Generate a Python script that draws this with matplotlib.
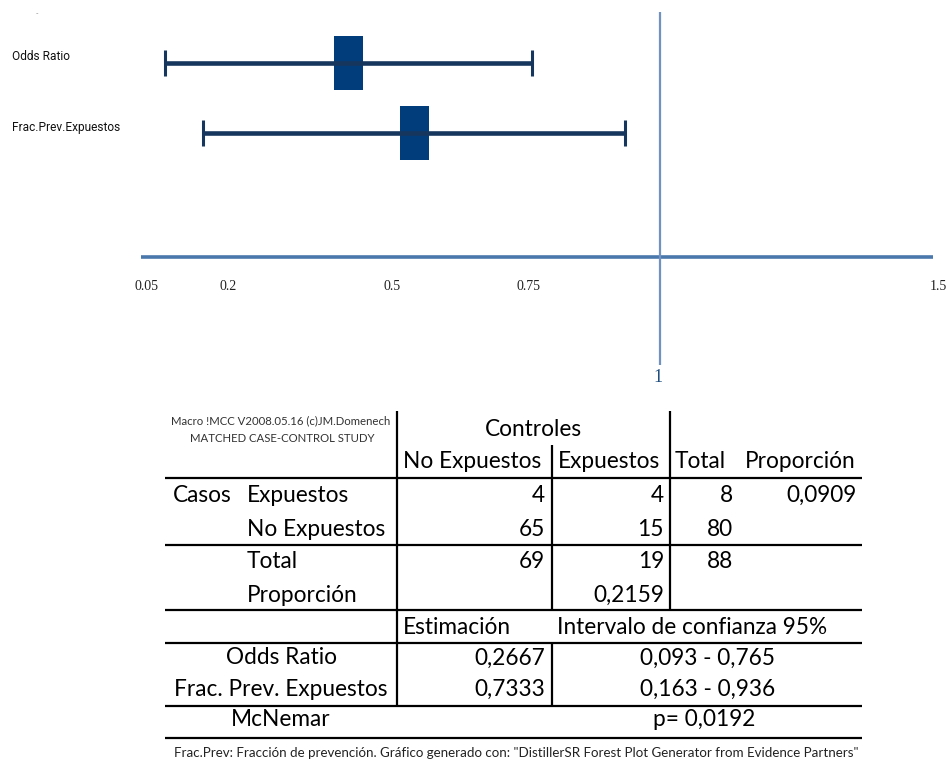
import matplotlib
matplotlib.use("Agg")
import matplotlib.pyplot as plt
from matplotlib.patches import Rectangle

# ---- forest plot data ----
labels = ["Odds Ratio", "Frac.Prev.Expuestos"]
estimates = [0.2667, 0.7333]
ci_low = [0.093, 0.163]
ci_high = [0.765, 0.936]
tick_values = [0.05, 0.2, 0.5, 0.75, 1.5]
tick_labels = ["0.05", "0.2", "0.5", "0.75", "1.5"]
ref_value = 1

# ---- matched case-control table ----
col_headers = ["No Expuestos", "Expuestos", "Total", "Proporción"]
row_labels = ["Expuestos", "No Expuestos"]
counts = [[4, 4], [65, 15]]
row_totals = [8, 80]
col_totals = [69, 19]
grand_total = 88
prop_cases = "0,0909"
prop_controls = "0,2159"
stat_names = ["Odds Ratio", "Frac. Prev. Expuestos"]
stat_est = ["0,2667", "0,7333"]
stat_ci = ["0,093 - 0,765", "0,163 - 0,936"]
mcnemar_p = "p= 0,0192"

W, H = 947, 763
fig = plt.figure(figsize=(W / 100, H / 100), dpi=100)

# ---------------- forest plot ----------------
top_h = 400
ax = fig.add_axes([0, 1 - top_h / H, 1, top_h / H])
ax.axis("off")
px_per_unit = 546.0
x_origin = 114.0
ax.set_xlim(-x_origin / px_per_unit, (W - x_origin) / px_per_unit)
row_px = 70.0
first_row = 63.0
ax.set_ylim((top_h - first_row) / row_px, -first_row / row_px)

def py(p):
    return (p - first_row) / row_px

def px(p):
    return (p - x_origin) / px_per_unit

whisker_c = "#17365d"
box_c = "#003d7a"
rows = list(range(len(labels)))
box_w = 29 / px_per_unit
box_h = 54 / row_px
cap_h = 13 / row_px
for i, lo, hi in zip(rows, ci_low, ci_high):
    mid = (lo + hi) / 2
    ax.add_patch(Rectangle((mid - box_w / 2, i - box_h / 2), box_w, box_h,
                           facecolor=box_c, edgecolor="none", zorder=2))
ax.hlines(rows, ci_low, ci_high, color=whisker_c, lw=3.3, zorder=3)
for i, lo, hi in zip(rows, ci_low, ci_high):
    ax.vlines([lo, hi], i - cap_h, i + cap_h, color=whisker_c, lw=2.2, zorder=3)

for i, lab in zip(rows, labels):
    ax.text(px(12), i - 6 / row_px, lab, ha="left", va="center", fontsize=8.6,
            family=["Roboto", "DejaVu Sans"], color="#111111")

# horizontal scale line and labels
axis_y = py(257)
ax.hlines(axis_y, tick_values[0], tick_values[-1], color="#4a78ad", lw=2.6, zorder=1)
for v, t in zip(tick_values, tick_labels):
    ax.text(v + 5 / px_per_unit, py(287), t, ha="center", va="center",
            fontsize=10, family=["Liberation Serif", "DejaVu Serif"], color="#222222")

# reference line at 1
ax.vlines(ref_value, py(12), py(365), color="#7092c2", lw=1.6, zorder=1)
ax.text(ref_value - 2 / px_per_unit, py(377), "1", ha="center", va="center",
        fontsize=13, family=["Liberation Serif", "DejaVu Serif"], color="#1f4e80")
ax.text(px(37), py(13), "-", ha="center", va="center", fontsize=5, color="#888888")

# ---------------- table ----------------
tx = fig.add_axes([0, 0, 1, 1])
tx.axis("off")
tx.set_xlim(0, W)
tx.set_ylim(H, 0)
fam = ["Lato", "DejaVu Sans"]
fs = 16.3
tc = "#000000"

def t(x, y, s, ha="left", size=fs, color=tc):
    tx.text(x, y, s, ha=ha, va="center", fontsize=size, family=fam, color=color)

left, right = 165, 862
for yl in [478, 545, 610, 643, 706, 738]:
    tx.plot([left, right], [yl, yl], color="black", lw=1.6, solid_capstyle="butt")
for xl, y0, y1 in [(397, 411, 706), (552, 445, 610), (552, 643, 706), (670, 411, 610)]:
    tx.plot([xl, xl], [y0, y1], color="black", lw=1.6, solid_capstyle="butt")

t(281, 421, "Macro !MCC V2008.05.16 (c)JM.Domenech", ha="center", size=8.2, color="#333333")
t(282, 439, "MATCHED CASE-CONTROL STUDY", ha="center", size=8.2, color="#333333")
t(533, 429, "Controles", ha="center")

t(403, 462, col_headers[0])
t(558, 462, col_headers[1])
t(675, 462, col_headers[2])
t(745, 462, col_headers[3])

t(173, 495, "Casos")
row_y = [495, 529]
for yv, lab, cnt, tot in zip(row_y, row_labels, counts, row_totals):
    t(247, yv, lab)
    t(545, yv, str(cnt[0]), ha="right")
    t(664, yv, str(cnt[1]), ha="right")
    t(733, yv, str(tot), ha="right")
t(857, 495, prop_cases, ha="right")

t(247, 562, "Total")
t(545, 562, str(col_totals[0]), ha="right")
t(664, 562, str(col_totals[1]), ha="right")
t(733, 562, str(grand_total), ha="right")
t(247, 595, "Proporción")
t(664, 595, prop_controls, ha="right")

t(403, 627, "Estimación")
t(557, 627, "Intervalo de confianza 95%")
for yv, nm, es, ci in zip([658, 689], stat_names, stat_est, stat_ci):
    t(281, yv, nm, ha="center")
    t(545, yv, es, ha="right")
    t(708, yv, ci, ha="center")
t(281, 719, "McNemar", ha="center")
t(704, 719, mcnemar_p, ha="center")

t(516, 753, 'Frac.Prev: Fracción de prevención. Gráfico generado con: '
            '"DistillerSR Forest Plot Generator from Evidence Partners"',
  ha="center", size=9.6, color="#222222")

fig.savefig("out.png", dpi=100)
